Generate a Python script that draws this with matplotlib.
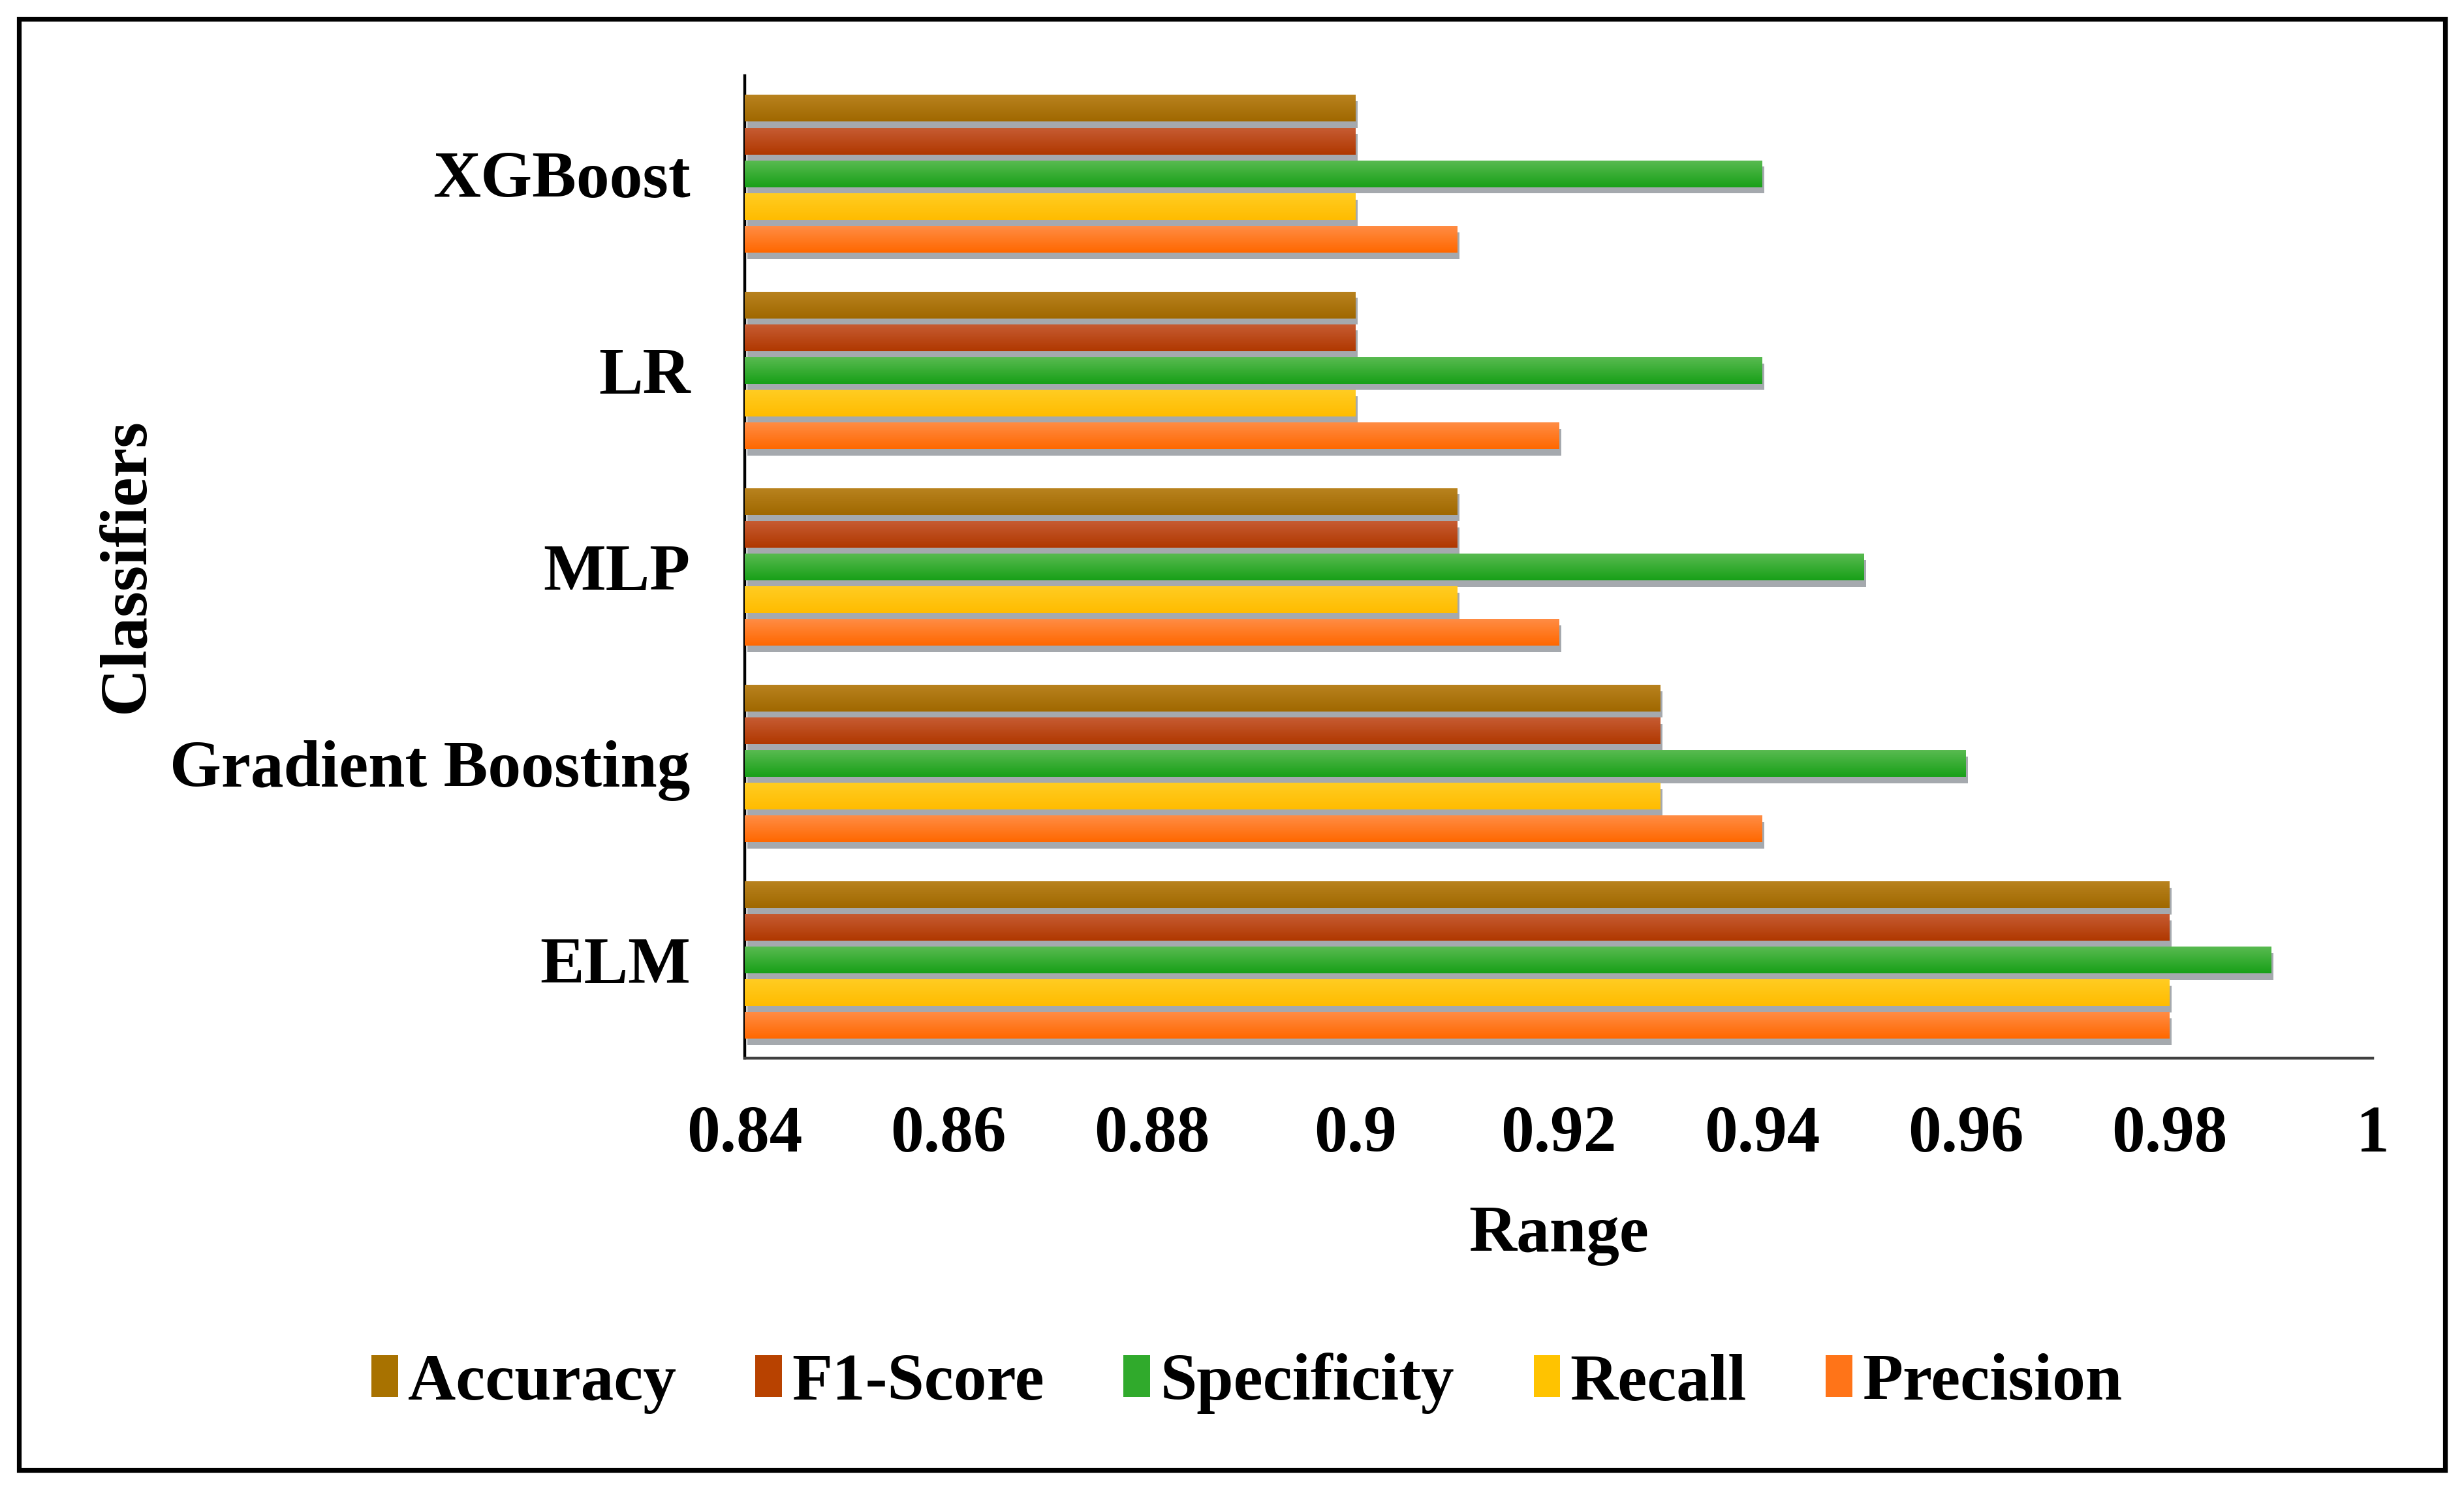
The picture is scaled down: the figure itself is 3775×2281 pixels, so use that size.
import numpy as np
import matplotlib
matplotlib.use("Agg")
import matplotlib.pyplot as plt
import matplotlib.patheffects as pe
from matplotlib.colors import to_rgb
from matplotlib.patches import Rectangle, Patch

# ---- data ----
classifiers = ["ELM", "Gradient Boosting", "MLP", "LR", "XGBoost"]   # bottom -> top
metrics = ["Accuracy", "F1-Score", "Specificity", "Recall", "Precision"]  # top -> bottom in group
accuracy    = [0.98, 0.93, 0.91, 0.90, 0.90]
f1_score    = [0.98, 0.93, 0.91, 0.90, 0.90]
specificity = [0.99, 0.96, 0.95, 0.94, 0.94]
recall      = [0.98, 0.93, 0.91, 0.90, 0.90]
precision   = [0.98, 0.94, 0.92, 0.92, 0.91]
xticks = [0.84, 0.86, 0.88, 0.90, 0.92, 0.94, 0.96, 0.98, 1.00]
xtick_labels = ["0.84", "0.86", "0.88", "0.9", "0.92", "0.94", "0.96", "0.98", "1"]

series = [accuracy, f1_score, specificity, recall, precision]
top_colors = ["#B8821E", "#C65B32", "#58BA50", "#FFCC22", "#FF8C44"]
bot_colors = ["#A06800", "#B03800", "#18A018", "#FFBC00", "#FF6800"]
mid_colors = ["#A87200", "#B84200", "#30AA2C", "#FFC300", "#FF7418"]

plt.rcParams['font.family'] = ['Liberation Serif', 'DejaVu Serif']
plt.rcParams['font.weight'] = 'bold'
FS = 36.5

fig = plt.figure(figsize=(18.875, 11.405), dpi=200)
ax = fig.add_axes([0.3023, 0.2893, 0.6607, 0.66])

x0 = 0.84
slot = 0.1664
bh = 0.136
y = np.arange(len(classifiers))
for i, (vals, name) in enumerate(zip(series, metrics)):
    offs = (2 - i) * slot
    bars = ax.barh(y + offs, np.array(vals) - x0, left=x0, height=bh,
                   color=mid_colors[i], label=name, zorder=2,
                   path_effects=[pe.SimplePatchShadow(offset=(1.2, -3.5), shadow_rgbFace='#6a7078', alpha=0.6),
                                 pe.Normal()])
    # vertical gradient overlay
    c1 = np.array(to_rgb(top_colors[i]))
    c2 = np.array(to_rgb(bot_colors[i]))
    t = np.linspace(0, 1, 32)[:, None]
    grad = (c1 * (1 - t) + c2 * t)[:, None, :]
    for b in bars:
        bx, by = b.get_x(), b.get_y()
        bw, bhh = b.get_width(), b.get_height()
        ax.imshow(grad, extent=[bx, bx + bw, by, by + bhh], origin='upper',
                  aspect='auto', zorder=3, interpolation='bilinear')

ax.set_xlim(0.84, 1.0)
ax.set_ylim(-0.5, 4.5)
ax.set_xticks(xticks)
ax.set_xticklabels(xtick_labels, fontsize=FS, fontweight='bold')
ax.set_yticks(y)
ax.set_yticklabels(classifiers, fontsize=FS, fontweight='bold')
ax.tick_params(axis='x', length=0, pad=26)
ax.tick_params(axis='y', length=0, pad=30)
for s in ['top', 'right']:
    ax.spines[s].set_visible(False)
ax.spines['left'].set_color('black')
ax.spines['left'].set_linewidth(1.6)
ax.spines['bottom'].set_color('#404040')
ax.spines['bottom'].set_linewidth(1.6)

fig.text(0.6327, 0.1595, "Range", ha='center', va='baseline', fontsize=FS, fontweight='bold')
fig.text(0.052, 0.62, "Classifiers", ha='center', va='center', rotation=90, fontsize=FS, fontweight='bold')

handles = [Patch(facecolor=mid_colors[i], label=metrics[i]) for i in range(5)]
fig.legend(handles=handles, loc='center', bbox_to_anchor=(0.506, 0.071), ncol=5,
           frameon=False, prop={'size': FS, 'weight': 'bold'},
           handlelength=0.4, handleheight=0.6, handletextpad=0.15, columnspacing=1.2)

fig.patches.append(Rectangle((12/1568, 1 - 935/947), (1556-12)/1568, (935-12)/947,
                             transform=fig.transFigure, fill=False, edgecolor='black',
                             linewidth=2.6, zorder=10))

fig.savefig("out.png", dpi=200)
